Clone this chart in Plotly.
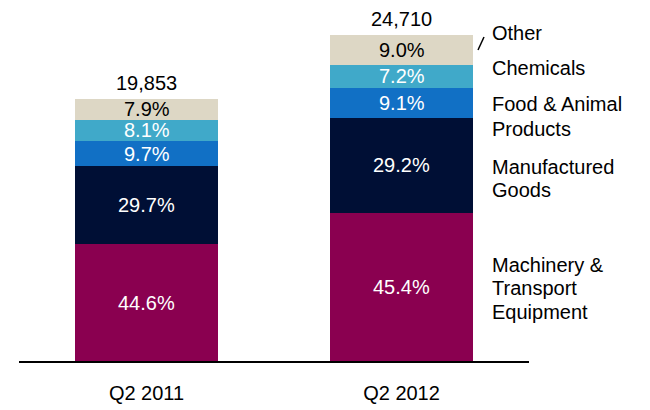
import plotly.graph_objects as go

# ---- data ----
periods = ["Q2 2011", "Q2 2012"]
totals = [19853, 24710]
total_labels = ["19,853", "24,710"]
categories = ["Machinery &<br>Transport<br>Equipment", "Manufactured<br>Goods",
              "Food & Animal<br>Products", "Chemicals", "Other"]
share_2011 = [44.6, 29.7, 9.7, 8.1, 7.9]
share_2012 = [45.4, 29.2, 9.1, 7.2, 9.0]

# ---- styles ----
colors = ["#8A0050", "#000F35", "#1170C5", "#40A9C9", "#DDD7C5"]
text_colors = ["white", "white", "white", "white", "black"]
FONT = "Liberation Sans, Arial, sans-serif"
FS = 20
BAR_W = 0.557

OFF = 8  # page body margin offset
W, H = 650 - OFF, 410 - OFF
ML, MR, MT, MB = 19 - OFF, 121, 10 - OFF, 49
YMAX = 26600

shares = [share_2011, share_2012]
fig = go.Figure()

seg_vals = [[t * s / 100 for s in sh] for t, sh in zip(totals, shares)]

for i, cat in enumerate(categories):
    fig.add_trace(go.Bar(
        x=periods, y=[seg_vals[0][i], seg_vals[1][i]],
        marker=dict(color=colors[i], line=dict(width=0)),
        width=BAR_W, name=cat, showlegend=False, hoverinfo="skip"))

cums = []
for sv in seg_vals:
    c, acc = [], 0
    for v in sv:
        acc += v
        c.append(acc)
    cums.append(c)

annotations = []
for p in range(2):
    for i in range(len(categories)):
        mid = cums[p][i] - seg_vals[p][i] / 2
        annotations.append(dict(x=p, y=mid, xref="x", yref="y",
                                text=f"{shares[p][i]:.1f}%", showarrow=False,
                                font=dict(family=FONT, size=FS, color=text_colors[i]),
                                yanchor="middle"))
    annotations.append(dict(x=p, y=cums[p][-1], xref="x", yref="y",
                            text=total_labels[p], showarrow=False, borderpad=0,
                            font=dict(family=FONT, size=FS, color="black"),
                            yanchor="middle", yshift=16))

for i in range(len(categories)):
    fig.add_trace(go.Scatter(
        x=[0 + BAR_W / 2, 1 - BAR_W / 2], y=[cums[0][i], cums[1][i]],
        mode="lines", line=dict(color="black", width=2, dash="8px,5px"),
        showlegend=False, hoverinfo="skip"))

# right-side category labels: one annotation per text line (page pixel centers)
line_px = [[265, 288, 312], [167, 190], [104, 129], [68], [33]]
plot_h = H - MT - MB
plot_w = W - ML - MR


def px_x(px):
    return (px - OFF - ML) / plot_w


def px_y(py):
    return (H - MB - (py - OFF)) / plot_h


for cat, ys in zip(categories, line_px):
    for line, ypx in zip(cat.split("<br>"), ys):
        annotations.append(dict(x=px_x(491), y=px_y(ypx),
                                xref="paper", yref="paper", text=line, showarrow=False,
                                xanchor="left", yanchor="middle", align="left",
                                borderpad=0,
                                font=dict(family=FONT, size=FS, color="black")))

shapes = [dict(type="line", xref="paper", yref="paper",
               x0=px_x(478), y0=px_y(50), x1=px_x(484), y1=px_y(37),
               line=dict(color="black", width=1.5))]

fig.update_layout(
    barmode="stack", width=W, height=H,
    margin=dict(l=ML, r=MR, t=MT, b=MB, pad=0),
    plot_bgcolor="white", paper_bgcolor="white",
    annotations=annotations, shapes=shapes,
    font=dict(family=FONT, size=FS, color="black"),
    xaxis=dict(type="category", range=[-0.5, 1.5], showline=True, linecolor="black",
               linewidth=2, ticks="", showgrid=False, zeroline=False,
               ticklabelstandoff=13,
               tickfont=dict(family=FONT, size=FS, color="black")),
    yaxis=dict(range=[0, YMAX], visible=False, showgrid=False, zeroline=False),
)

fig.write_html("out.html")
